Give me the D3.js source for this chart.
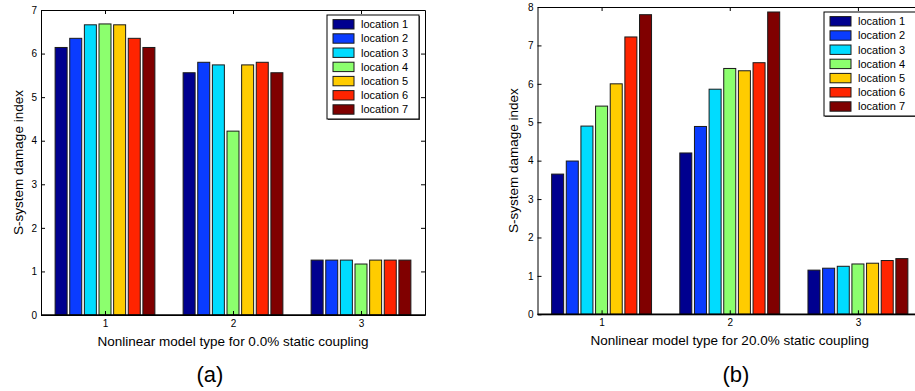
<!DOCTYPE html>
<html>
<head>
<meta charset="utf-8">
<script src="https://cdn.jsdelivr.net/npm/d3@7"></script>
<style>
  body { margin: 0; background: #fff; }
  svg { display: block; font-family: "Liberation Sans", Arial, Helvetica, sans-serif; }
  .axis text { font-size: 10px; fill: #000; }
  .axis path, .axis line { stroke: #000; }
</style>
</head>
<body>
<script>
// chart data
var groups = [1, 2, 3];
var locations = ["location 1", "location 2", "location 3", "location 4", "location 5", "location 6", "location 7"];
var colors = ["#00008f", "#0a3cff", "#00dcff", "#8cff6e", "#ffcc00", "#ff2400", "#800000"];

// (a) 0.0% static coupling, one row per model type
var valuesA = [
    [6.14, 6.35, 6.66, 6.68, 6.66, 6.35, 6.14],
    [5.56, 5.80, 5.74, 4.22, 5.74, 5.80, 5.56],
    [1.26, 1.26, 1.26, 1.17, 1.26, 1.26, 1.26]
];
// (b) 20.0% static coupling
var valuesB = [
    [3.65, 3.99, 4.90, 5.42, 6.00, 7.22, 7.80],
    [4.20, 4.89, 5.86, 6.40, 6.34, 6.55, 7.87],
    [1.15, 1.20, 1.25, 1.31, 1.33, 1.40, 1.45]
];
var yTicksA = [0, 1, 2, 3, 4, 5, 6, 7];
var yTicksB = [0, 1, 2, 3, 4, 5, 6, 7, 8];

var svg = d3.select("body").append("svg")
    .attr("width", 915)
    .attr("height", 391);

function drawPanel(p) {
    var x = d3.scaleLinear().domain([0.5, 3.5]).range([p.left, p.right]);
    var y = d3.scaleLinear().domain([0, d3.max(p.ticks)]).range([p.bottom, p.top]);
    var g = svg.append("g");
    var fmt = d3.format("d");

    var slot = 0.8 / locations.length;
    var bw = x(slot * 0.82) - x(0);

    var rows = [];
    p.values.forEach(function(row, gi) {
        row.forEach(function(v, li) {
            rows.push({ group: groups[gi], loc: li, value: v });
        });
    });

    g.selectAll("rect.bar")
        .data(rows)
        .enter().append("rect")
        .attr("class", "bar")
        .attr("x", function(d) { return x(d.group + (d.loc - 3) * slot) - bw / 2; })
        .attr("y", function(d) { return y(d.value); })
        .attr("width", bw)
        .attr("height", function(d) { return y(0) - y(d.value); })
        .attr("fill", function(d) { return colors[d.loc]; })
        .attr("stroke", "#1a1a1a")
        .attr("stroke-width", 1);

    // box with inward ticks on all four sides
    g.append("g").attr("class", "axis")
        .attr("transform", "translate(0," + p.bottom + ")")
        .call(d3.axisBottom(x).tickValues(groups).tickFormat(fmt).tickSizeInner(-4).tickSizeOuter(0).tickPadding(5));
    g.append("g").attr("class", "axis")
        .attr("transform", "translate(0," + p.top + ")")
        .call(d3.axisTop(x).tickValues(groups).tickSizeInner(-4).tickSizeOuter(0).tickFormat(""));
    g.append("g").attr("class", "axis")
        .attr("transform", "translate(" + p.left + ",0)")
        .call(d3.axisLeft(y).tickValues(p.ticks).tickFormat(fmt).tickSizeInner(-4).tickSizeOuter(0).tickPadding(4));
    g.append("g").attr("class", "axis")
        .attr("transform", "translate(" + p.right + ",0)")
        .call(d3.axisRight(y).tickValues(p.ticks).tickSizeInner(-4).tickSizeOuter(0).tickFormat(""));
    g.append("line")
        .attr("x1", p.left).attr("x2", p.right)
        .attr("y1", p.bottom).attr("y2", p.bottom)
        .attr("stroke", "#000").attr("stroke-width", 1.6);

    g.append("text")
        .attr("x", x(2))
        .attr("y", p.bottom + 31)
        .attr("text-anchor", "middle")
        .style("font-size", "13.5px")
        .text(p.xTitle);

    g.append("text")
        .attr("transform", "translate(" + p.yTitleX + "," + ((p.top + p.bottom) / 2) + ") rotate(-90)")
        .attr("text-anchor", "middle")
        .attr("dy", "0.35em")
        .style("font-size", "13.5px")
        .text("S-system damage index");

    g.append("text")
        .attr("x", p.captionX)
        .attr("y", 382)
        .attr("text-anchor", "middle")
        .style("font-size", "22px")
        .text(p.caption);

    // legend
    var lw = 92, lh = 104;
    var lx = p.right - 6 - lw, ly = p.top + 5;
    var leg = g.append("g").attr("transform", "translate(" + lx + "," + ly + ")");
    leg.append("rect")
        .attr("x", 1).attr("y", 1)
        .attr("width", lw).attr("height", lh)
        .attr("fill", "#555");
    leg.append("rect")
        .attr("width", lw).attr("height", lh)
        .attr("fill", "#fff")
        .attr("stroke", "#000");
    var item = leg.selectAll("g.item")
        .data(locations)
        .enter().append("g")
        .attr("class", "item")
        .attr("transform", function(d, i) { return "translate(0," + (9.3 + i * 14.2) + ")"; });
    item.append("rect")
        .attr("x", 6).attr("y", -4.7)
        .attr("width", 21).attr("height", 9.4)
        .attr("fill", function(d, i) { return colors[i]; })
        .attr("stroke", "#1a1a1a");
    item.append("text")
        .attr("x", 34)
        .attr("dy", "0.35em")
        .style("font-size", "11px")
        .text(function(d) { return d; });
}

drawPanel({
    left: 41, right: 425, top: 10, bottom: 315,
    values: valuesA, ticks: yTicksA,
    xTitle: "Nonlinear model type for 0.0% static coupling",
    yTitleX: 18, caption: "(a)", captionX: 210
});
drawPanel({
    left: 537.5, right: 922, top: 7, bottom: 314.3,
    values: valuesB, ticks: yTicksB,
    xTitle: "Nonlinear model type for 20.0% static coupling",
    yTitleX: 513, caption: "(b)", captionX: 736
});
</script>
</body>
</html>
